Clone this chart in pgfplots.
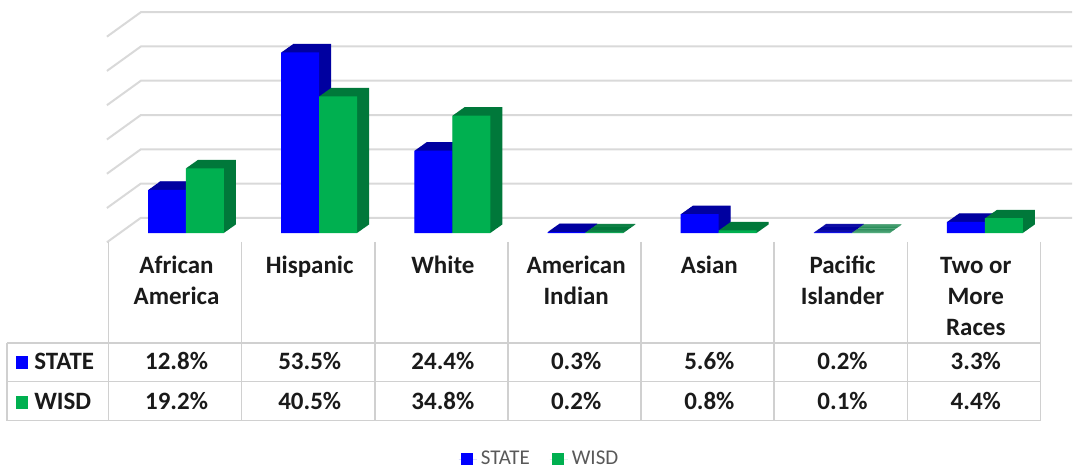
\documentclass[border=0pt]{standalone}
\usepackage{pgfplots}
\usepackage{pgfplotstable}
\usepackage{fontspec}
\setmainfont{Carlito}
\pgfplotsset{compat=1.18}

\definecolor{stateblue}{HTML}{0000FF}
\definecolor{statedark}{HTML}{0000A0}
\definecolor{wisdgreen}{HTML}{00B050}
\definecolor{wisddark}{HTML}{00783A}
\definecolor{gridgray}{HTML}{D9D9D9}
\definecolor{tablegray}{HTML}{D0D0D0}
\definecolor{txt}{HTML}{1A1A1A}

% share of students by race, in percent
\pgfplotstableread{
cat state wisd
0   12.8  19.2
1   53.5  40.5
2   24.4  34.8
3   0.3   0.2
4   5.6   0.8
5   0.2   0.1
6   3.3   4.4
}\racedata

\begin{document}
\begin{tikzpicture}
% frame in pixel units of the original picture (y downwards)
\begin{axis}[
    name=frame,
    scale only axis, width=536.5pt, height=234.5pt,
    xmin=0, xmax=1073, ymin=0, ymax=469, y dir=reverse,
    hide axis, clip=false,
]
\path (axis cs:0,0) rectangle (axis cs:1073,469);
% back wall and side wall
\pgfplotsinvokeforeach{218,183.7,149.4,115.1,80.8,46.5,12.2}{
    \draw[gridgray, line width=1pt] (axis cs:107,#1+24.5) -- (axis cs:141,#1) -- (axis cs:1073,#1);
}
% data table grid
\pgfplotsinvokeforeach{108.5,241.8,375.1,508.4,641.7,775,908.3,1041.6}{
    \draw[tablegray, line width=0.8pt] (axis cs:#1,242) -- (axis cs:#1,421);
}
\draw[tablegray, line width=0.8pt] (axis cs:7,343) -- (axis cs:1041.6,343);
\draw[tablegray, line width=0.8pt] (axis cs:7,382) -- (axis cs:1041.6,382);
\draw[tablegray, line width=0.8pt] (axis cs:7,421) -- (axis cs:1041.6,421);
\draw[tablegray, line width=0.8pt] (axis cs:7,343) -- (axis cs:7,421);
% category names
\begin{scope}[every node/.style={anchor=base, txt, font=\fontsize{12.5pt}{15pt}\selectfont\bfseries}]
\node at (axis cs:176.7,274) {African};
\node at (axis cs:176.7,305) {America};
\node at (axis cs:310,274) {Hispanic};
\node at (axis cs:443.3,274) {White};
\node at (axis cs:576.7,274) {American};
\node at (axis cs:576.7,305) {Indian};
\node at (axis cs:710,274) {Asian};
\node at (axis cs:843.3,274) {Pacific};
\node at (axis cs:843.3,305) {Islander};
\node at (axis cs:976.7,274) {Two or};
\node at (axis cs:976.7,305) {More};
\node at (axis cs:976.7,336) {Races};
% row labels
\fill[stateblue] (axis cs:16,356) rectangle (axis cs:28,369);
\node[anchor=base west, inner xsep=0pt] at (axis cs:34,370) {STATE};
\fill[wisdgreen] (axis cs:16,396) rectangle (axis cs:28,409);
\node[anchor=base west, inner xsep=0pt] at (axis cs:34,410) {WISD};
% values
\node at (axis cs:176.7,370) {12.8\%};
\node at (axis cs:310,370) {53.5\%};
\node at (axis cs:443.3,370) {24.4\%};
\node at (axis cs:576.7,370) {0.3\%};
\node at (axis cs:710,370) {5.6\%};
\node at (axis cs:843.3,370) {0.2\%};
\node at (axis cs:976.7,370) {3.3\%};
\node at (axis cs:176.7,410) {19.2\%};
\node at (axis cs:310,410) {40.5\%};
\node at (axis cs:443.3,410) {34.8\%};
\node at (axis cs:576.7,410) {0.2\%};
\node at (axis cs:710,410) {0.8\%};
\node at (axis cs:843.3,410) {0.1\%};
\node at (axis cs:976.7,410) {4.4\%};
\end{scope}
\coordinate (o) at (axis cs:110,233.3);
\end{axis}

% the bars
\begin{axis}[
    at={(o)}, anchor=south west,
    scale only axis, width=466.5pt, height=101.4pt,
    xmin=-0.5, xmax=6.5, ymin=0, ymax=60,
    hide axis, clip=false,
    ybar, bar width=19pt,
    legend columns=2,
    legend style={draw=none, fill=none, at={(0.462,-1.115)}, anchor=center,
        font=\fontsize{10.5pt}{12pt}\selectfont, text=black!65,
        /tikz/every even column/.append style={column sep=8pt}},
    legend image code/.code={\path (0pt,0pt) -- (9pt,0pt);
        \fill[#1, draw=none] (1pt,-3pt) rectangle (7pt,3pt);},
]
\pgfplotsinvokeforeach{1,...,24}{
    \addplot[forget plot, draw=none, fill=statedark, bar shift=-4.75pt,
        xshift=#1*0.25pt, yshift=#1*0.177pt] table[x=cat, y=state] {\racedata};
}
\addplot[draw=none, fill=stateblue, bar shift=-4.75pt] table[x=cat, y=state] {\racedata};
\pgfplotsinvokeforeach{1,...,24}{
    \addplot[forget plot, draw=none, fill=wisddark, bar shift=14.25pt,
        xshift=#1*0.25pt, yshift=#1*0.177pt] table[x=cat, y=wisd] {\racedata};
}
\addplot[draw=none, fill=wisdgreen, bar shift=14.25pt] table[x=cat, y=wisd] {\racedata};
\legend{STATE, WISD}
\end{axis}
\end{tikzpicture}
\end{document}
